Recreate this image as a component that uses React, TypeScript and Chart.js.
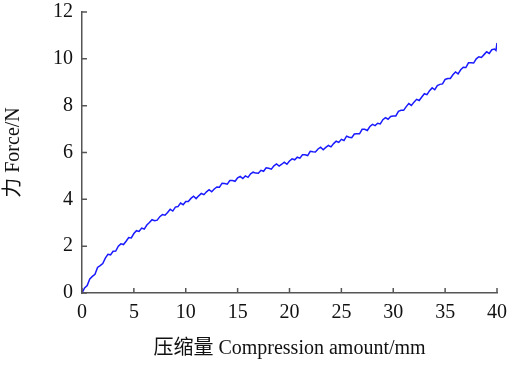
import React, { useEffect, useRef } from "react";
import { Chart, registerables } from "chart.js";

Chart.register(...registerables);

const compression: number[] = [
  0, 0.25, 0.5, 0.75, 1, 1.25, 1.5, 1.75, 2, 2.25, 2.5, 2.75, 3, 3.25, 3.5, 3.75,
  4, 4.25, 4.5, 4.75, 5, 5.25, 5.5, 5.75, 6, 6.25, 6.5, 6.75, 7, 7.25, 7.5, 7.75,
  8, 8.25, 8.5, 8.75, 9, 9.25, 9.5, 9.75, 10, 10.25, 10.5, 10.75, 11, 11.25, 11.5, 11.75,
  12, 12.25, 12.5, 12.75, 13, 13.25, 13.5, 13.75, 14, 14.25, 14.5, 14.75, 15, 15.25, 15.5, 15.75,
  16, 16.25, 16.5, 16.75, 17, 17.25, 17.5, 17.75, 18, 18.25, 18.5, 18.75, 19, 19.25, 19.5, 19.75,
  20, 20.25, 20.5, 20.75, 21, 21.25, 21.5, 21.75, 22, 22.25, 22.5, 22.75, 23, 23.25, 23.5, 23.75,
  24, 24.25, 24.5, 24.75, 25, 25.25, 25.5, 25.75, 26, 26.25, 26.5, 26.75, 27, 27.25, 27.5, 27.75,
  28, 28.25, 28.5, 28.75, 29, 29.25, 29.5, 29.75, 30, 30.25, 30.5, 30.75, 31, 31.25, 31.5, 31.75,
  32, 32.25, 32.5, 32.75, 33, 33.25, 33.5, 33.75, 34, 34.25, 34.5, 34.75, 35, 35.25, 35.5, 35.75,
  36, 36.25, 36.5, 36.75, 37, 37.25, 37.5, 37.75, 38, 38.25, 38.5, 38.75, 39, 39.25, 39.5, 39.75,
  39.9, 40,
];

const force: number[] = [
  0.0, 0.22, 0.32, 0.6, 0.71, 0.8, 1.09, 1.17, 1.26, 1.49, 1.65, 1.63, 1.78, 1.79, 2.0, 2.1,
  2.07, 2.21, 2.37, 2.35, 2.54, 2.66, 2.63, 2.77, 2.73, 2.9, 3.01, 3.13, 3.09, 3.11, 3.26, 3.35,
  3.32, 3.44, 3.58, 3.5, 3.67, 3.69, 3.84, 3.77, 3.91, 3.91, 4.04, 4.13, 4.03, 4.15, 4.25, 4.2,
  4.32, 4.41, 4.32, 4.44, 4.53, 4.52, 4.69, 4.68, 4.65, 4.8, 4.8, 4.77, 4.92, 4.98, 4.89, 5.0,
  4.94, 5.09, 5.16, 5.12, 5.11, 5.24, 5.2, 5.35, 5.33, 5.29, 5.43, 5.51, 5.42, 5.5, 5.59, 5.5,
  5.64, 5.73, 5.69, 5.8, 5.76, 5.9, 5.9, 5.87, 6.05, 6.03, 6.02, 6.15, 6.23, 6.12, 6.22, 6.3,
  6.24, 6.38, 6.48, 6.43, 6.56, 6.51, 6.7, 6.65, 6.63, 6.79, 6.8, 6.8, 6.99, 6.99, 6.94, 7.11,
  7.2, 7.15, 7.25, 7.22, 7.4, 7.49, 7.42, 7.54, 7.56, 7.56, 7.76, 7.8, 7.8, 7.96, 8.09, 8.01,
  8.15, 8.27, 8.22, 8.37, 8.51, 8.47, 8.64, 8.76, 8.68, 8.86, 8.91, 8.93, 9.12, 9.16, 9.16, 9.32,
  9.44, 9.36, 9.53, 9.64, 9.63, 9.83, 9.83, 9.82, 10.0, 10.09, 10.06, 10.18, 10.3, 10.23, 10.39, 10.42,
  10.36, 10.68,
];

const xTicks: number[] = [0, 5, 10, 15, 20, 25, 30, 35, 40];
const yTicks: number[] = [0, 2, 4, 6, 8, 10, 12];
const xTitle = "压缩量 Compression amount/mm";
const yTitle = "力 Force/N";

const FONT = "'Liberation Serif', 'Times New Roman', 'Noto Sans CJK SC', serif";
const AXIS_COLOR = "#555555";

const inwardTicks = {
  id: "inwardTicks",
  afterDraw(chart: any) {
    const ctx = chart.ctx;
    const xs = chart.scales.x;
    const ys = chart.scales.y;
    const area = chart.chartArea;
    ctx.save();
    ctx.strokeStyle = AXIS_COLOR;
    ctx.lineWidth = 1.5;
    ctx.beginPath();
    xTicks.forEach((v) => {
      const px = xs.getPixelForValue(v);
      ctx.moveTo(px, area.bottom);
      ctx.lineTo(px, area.bottom - 5);
    });
    yTicks.forEach((v) => {
      const py = ys.getPixelForValue(v);
      ctx.moveTo(area.left, py);
      ctx.lineTo(area.left + 5, py);
    });
    ctx.stroke();
    ctx.restore();
  },
};

export default function App() {
  const ref = useRef<HTMLCanvasElement>(null);
  useEffect(() => {
    document.body.style.margin = "0";
    const points = compression.map((x, i) => ({ x, y: force[i] }));
    const chart = new Chart(ref.current!, {
      type: "line",
      data: {
        datasets: [
          {
            data: points,
            borderColor: "#1a1aff",
            borderWidth: 1.5,
            pointRadius: 0,
            tension: 0,
            fill: false,
          },
        ],
      },
      options: {
        animation: false,
        responsive: false,
        maintainAspectRatio: false,
        layout: { padding: { top: 12, right: 20, left: 0, bottom: 0 } },
        plugins: { legend: { display: false }, tooltip: { enabled: false } },
        scales: {
          x: {
            type: "linear",
            min: 0,
            max: 40,
            afterBuildTicks: (s: any) => {
              s.ticks = xTicks.map((v) => ({ value: v }));
            },
            afterFit: (s: any) => {
              s.height = 74;
              s.paddingLeft = 0;
              s.paddingRight = 0;
            },
            grid: { display: true, drawOnChartArea: false, drawTicks: false },
            border: { display: true, color: AXIS_COLOR, width: 1.5 },
            ticks: {
              padding: 8,
              color: "#111",
              font: { family: FONT, size: 20 },
              maxRotation: 0,
            },
            title: {
              display: true,
              text: xTitle,
              color: "#111",
              font: { family: FONT, size: 20 },
              padding: { top: 8, bottom: 6 },
            },
          },
          y: {
            type: "linear",
            min: 0,
            max: 12,
            afterBuildTicks: (s: any) => {
              s.ticks = yTicks.map((v) => ({ value: v }));
            },
            afterFit: (s: any) => {
              s.width = 82;
              s.paddingTop = 0;
              s.paddingBottom = 0;
            },
            grid: { display: true, drawOnChartArea: false, drawTicks: false },
            border: { display: true, color: AXIS_COLOR, width: 1.5 },
            ticks: {
              padding: 9,
              color: "#111",
              font: { family: FONT, size: 20 },
            },
            title: {
              display: true,
              text: yTitle,
              color: "#111",
              font: { family: FONT, size: 20 },
              padding: { top: 2, bottom: 0 },
            },
          },
        },
      },
      plugins: [inwardTicks],
    });
    return () => chart.destroy();
  }, []);
  return (
    <div style={{ width: 517, height: 367, background: "#fff" }}>
      <canvas ref={ref} width={517} height={367} style={{ display: "block" }} />
    </div>
  );
}
